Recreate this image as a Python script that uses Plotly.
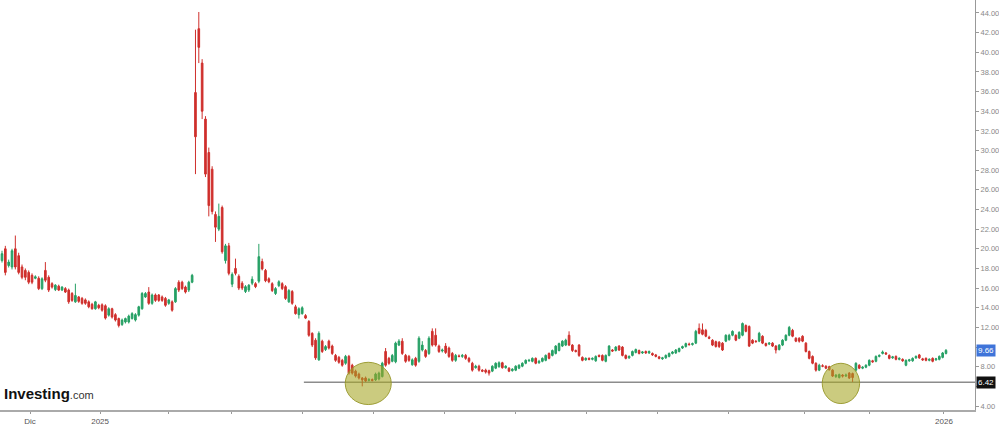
import plotly.graph_objects as go

# ---------------- data (daily candles) ----------------
open_ = [18.8, 20.0, 18.3, 18.15, 20.0, 19.3, 18.15, 17.8, 17.6, 17.3, 17.0, 17.0, 15.95, 17.8, 17.1, 16.45, 15.85, 16.2, 15.8, 15.95,
         15.8, 15.45, 14.6, 15.1, 14.95, 14.8, 14.6, 14.35, 13.9, 14.25, 14.3, 14.2, 13.25, 13.9, 13.3, 12.9, 12.3, 12.55, 12.55, 12.9,
         12.75, 13.25, 13.9, 15.1, 15.6, 14.45, 15.3, 15.3, 15.1, 14.95, 14.45, 14.6, 14.6, 16.6, 16.6, 16.1, 15.8, 16.6,
         35.9, 42.4, 38.9, 33.2, 29.8, 28.1, 23.5, 22.0, 24.2, 18.8, 20.3, 16.4, 18.0, 17.2, 16.5, 15.65, 15.8, 16.5, 16.45, 16.7,
         18.7, 17.8, 16.95, 16.45, 15.45, 16.25, 16.45, 16.15, 14.6, 15.65, 14.1, 13.3, 13.4, 13.2, 12.6, 11.4, 10.7, 8.7, 10.6, 9.75,
         10.6, 10.1, 9.15, 8.95, 8.65, 8.35, 9.05, 8.15, 7.55, 7.25, 6.85, 6.85, 6.6, 6.7, 6.65, 6.75, 7.0, 9.55, 8.85, 8.55,
         8.5, 10.2, 10.6, 9.15, 9.05, 8.2, 8.85, 8.55, 9.7, 9.65, 9.35, 11.6, 11.2, 10.1, 9.6, 10.1, 9.9, 9.35, 8.65, 9.1,
         9.05, 9.15, 8.85, 8.35, 7.9, 8.05, 7.65, 7.65, 7.6, 7.55, 7.85, 8.0, 8.4, 7.9, 7.85, 7.6, 7.65, 7.85, 8.05, 8.35,
         8.6, 8.55, 8.85, 8.4, 8.55, 8.65, 9.35, 9.15, 9.35, 9.65, 10.1, 10.2, 11.2, 10.2, 9.65, 10.2, 8.95, 8.7, 8.85, 8.75,
         8.6, 9.15, 9.15, 8.55, 9.15, 9.7, 9.65, 10.1, 10.0, 9.15, 8.9, 9.15, 9.45, 9.65, 9.4, 9.55, 9.4, 9.35, 9.2, 9.0,
         8.8, 8.9, 9.05, 9.35, 9.4, 9.55, 9.9, 10.05, 10.3, 10.25, 10.4, 11.9, 11.75, 11.7, 11.0, 10.7, 10.55, 10.5, 10.4, 10.6,
         10.75, 11.2, 11.2, 10.9, 11.2, 12.2, 12.1, 10.7, 10.6, 10.6, 11.1, 10.35, 10.3, 10.4, 10.1, 9.75, 10.2, 10.7, 11.2, 11.7,
         10.9, 10.9, 11.1, 10.4, 9.55, 9.05, 8.35, 7.65, 8.1, 8.05, 8.0, 7.65, 7.0, 6.9, 7.15, 7.05, 7.35, 7.3, 7.65, 8.15,
         7.85, 7.95, 8.15, 8.6, 8.55, 9.05, 9.35, 9.4, 9.15, 8.9, 9.05, 8.75, 8.75, 8.15, 8.6, 8.6, 8.9, 9.2, 8.8, 8.85,
         8.65, 8.85, 8.7, 8.75, 8.95, 9.35]
high = [19.8, 20.3, 18.9, 20.0, 21.35, 19.6, 18.4, 18.0, 17.8, 17.5, 17.3, 17.2, 17.1, 18.65, 17.3, 16.6, 16.4, 16.35, 16.2, 16.1,
        15.95, 15.6, 16.45, 15.2, 15.1, 14.95, 14.75, 14.5, 14.7, 14.4, 14.45, 14.35, 14.05, 14.0, 13.45, 13.0, 12.9, 13.0, 13.3, 13.55,
        13.45, 14.2, 15.6, 15.6, 16.1, 15.45, 15.45, 15.4, 15.25, 15.1, 14.9, 14.75, 16.1, 16.8, 16.75, 16.25, 16.75, 17.45,
        42.3, 44.1, 39.3, 33.5, 30.3, 28.4, 23.8, 24.6, 24.4, 20.5, 20.6, 17.6, 19.0, 17.4, 16.7, 16.3, 16.4, 17.2, 16.6, 20.5,
        19.0, 17.95, 17.1, 16.6, 16.1, 16.8, 16.6, 16.3, 15.9, 15.8, 14.3, 14.05, 14.15, 13.35, 12.75, 11.5, 10.9, 11.6, 10.75, 10.2,
        10.75, 10.25, 9.3, 9.1, 8.8, 9.2, 9.2, 8.3, 7.7, 7.4, 6.95, 7.0, 6.85, 6.8, 7.4, 7.5, 8.5, 9.9, 9.0, 9.3,
        10.55, 10.8, 10.9, 9.3, 9.2, 8.85, 9.0, 11.1, 10.6, 9.8, 11.1, 11.9, 11.9, 10.25, 9.85, 10.4, 10.05, 9.5, 9.3, 9.25,
        9.3, 9.3, 9.0, 8.5, 8.2, 8.2, 7.75, 7.8, 7.7, 8.15, 8.45, 8.55, 8.5, 8.15, 7.95, 7.85, 8.15, 8.25, 8.45, 8.75,
        8.8, 8.95, 8.95, 8.7, 8.95, 9.25, 9.45, 9.75, 10.2, 10.45, 10.7, 10.85, 11.6, 10.3, 9.75, 10.3, 9.05, 8.95, 8.95, 8.95,
        9.15, 9.25, 9.25, 9.25, 10.2, 9.8, 10.1, 10.2, 10.1, 9.25, 9.15, 9.65, 9.85, 9.75, 9.6, 9.65, 9.65, 9.45, 9.3, 9.1,
        9.0, 9.25, 9.45, 9.6, 9.8, 9.95, 10.15, 10.45, 10.45, 10.45, 11.75, 12.4, 12.4, 11.85, 11.15, 10.8, 10.65, 10.6, 10.5, 11.3,
        11.35, 11.7, 11.3, 11.6, 12.5, 12.3, 12.2, 10.8, 10.7, 11.55, 11.2, 10.45, 10.5, 10.5, 10.2, 10.3, 10.8, 11.3, 12.15, 11.85,
        11.0, 11.0, 11.2, 10.5, 9.65, 9.15, 8.45, 8.3, 8.25, 8.15, 8.1, 7.75, 7.25, 7.3, 7.25, 7.3, 7.45, 7.4, 8.45, 8.25,
        8.05, 8.25, 8.75, 8.7, 9.15, 9.25, 9.65, 9.5, 9.25, 9.1, 9.15, 8.95, 8.85, 8.75, 8.8, 8.95, 9.15, 9.3, 8.9, 8.95,
        8.85, 8.95, 8.9, 9.15, 9.5, 9.8]
low = [18.6, 17.3, 18.1, 17.9, 17.9, 17.4, 16.9, 16.8, 16.4, 16.4, 16.9, 15.8, 15.8, 16.6, 15.6, 15.95, 15.7, 15.7, 15.7, 15.5,
       14.4, 14.6, 14.5, 14.5, 14.3, 14.3, 13.95, 13.8, 13.8, 13.85, 13.6, 12.8, 13.1, 12.9, 12.6, 12.0, 12.15, 12.4, 12.4, 12.8,
       12.6, 13.1, 13.8, 15.0, 14.3, 14.3, 14.6, 14.6, 14.6, 14.1, 14.3, 13.6, 14.5, 15.6, 15.8, 15.45, 15.6, 16.5,
       27.6, 38.9, 33.2, 27.3, 23.3, 23.5, 20.7, 21.8, 19.5, 18.5, 17.3, 16.1, 17.3, 15.8, 15.8, 15.5, 15.6, 16.3, 16.0, 16.5,
       17.8, 16.6, 16.5, 15.6, 15.3, 16.1, 15.8, 14.8, 14.5, 14.3, 13.3, 12.9, 13.3, 12.85, 11.05, 10.0, 8.7, 8.6, 9.4, 9.6,
       9.75, 9.2, 8.5, 8.3, 8.0, 8.2, 7.2, 7.2, 6.9, 6.7, 6.0, 6.45, 6.5, 6.5, 6.55, 6.6, 6.9, 8.0, 8.2, 8.45,
       8.35, 10.1, 9.2, 8.4, 8.5, 8.1, 8.0, 8.4, 9.55, 8.9, 9.2, 10.05, 10.05, 9.4, 9.45, 9.3, 8.9, 8.5, 8.5, 8.95,
       8.9, 8.7, 8.4, 7.5, 7.8, 7.5, 7.45, 7.3, 7.1, 7.45, 7.75, 7.9, 7.8, 7.8, 7.45, 7.5, 7.55, 7.75, 7.95, 8.25,
       8.5, 8.45, 8.25, 8.3, 8.45, 8.55, 8.75, 9.05, 9.25, 9.55, 10.0, 10.1, 10.1, 9.5, 9.45, 9.0, 8.55, 8.6, 8.65, 8.65,
       8.5, 8.95, 8.55, 8.45, 9.05, 9.5, 9.55, 9.6, 9.05, 8.75, 8.8, 9.05, 9.35, 9.25, 9.3, 9.3, 9.3, 9.1, 8.95, 8.75,
       8.7, 8.8, 8.95, 9.25, 9.3, 9.45, 9.8, 9.95, 10.15, 10.15, 10.3, 11.3, 11.2, 11.0, 10.8, 10.1, 9.95, 9.9, 9.6, 10.5,
       10.65, 11.1, 10.6, 10.8, 11.1, 11.5, 10.0, 10.3, 10.45, 10.5, 10.3, 10.05, 10.2, 10.0, 9.35, 9.65, 10.1, 10.6, 11.1, 11.0,
       10.5, 10.45, 10.5, 9.45, 8.75, 8.25, 7.5, 7.55, 7.95, 7.75, 7.6, 6.95, 6.85, 6.8, 6.9, 6.95, 6.75, 6.45, 7.5, 7.75,
       7.75, 7.85, 8.05, 8.4, 8.45, 8.95, 9.25, 9.2, 8.75, 8.8, 8.65, 8.65, 8.5, 8.05, 8.5, 8.5, 8.8, 8.8, 8.6, 8.55,
       8.55, 8.45, 8.6, 8.65, 8.85, 9.25]
close = [19.5, 17.6, 18.65, 19.8, 18.15, 17.6, 17.1, 17.1, 16.6, 16.6, 17.15, 15.95, 16.95, 16.8, 15.8, 16.1, 16.3, 15.8, 16.1, 15.6,
         14.6, 14.75, 15.25, 14.65, 14.45, 14.45, 14.1, 13.9, 14.6, 14.0, 13.75, 12.95, 13.9, 13.05, 12.75, 12.2, 12.75, 12.9, 13.15, 13.4,
         13.3, 14.1, 15.45, 15.45, 14.45, 15.3, 14.75, 14.75, 14.75, 14.25, 14.8, 13.75, 15.95, 15.8, 15.95, 15.6, 16.6, 17.3,
         31.4, 40.5, 34.0, 27.6, 24.4, 23.8, 22.2, 23.3, 19.7, 20.3, 17.5, 17.4, 17.5, 16.0, 16.0, 16.15, 16.3, 16.9, 16.15, 19.2,
         17.95, 16.75, 16.65, 15.75, 15.95, 16.65, 15.95, 14.95, 15.75, 14.45, 13.4, 13.9, 14.0, 12.95, 11.2, 10.2, 8.9, 11.4, 9.55, 10.05,
         9.9, 9.35, 8.65, 8.45, 8.15, 9.05, 7.35, 7.35, 7.05, 6.85, 6.65, 6.55, 6.7, 6.6, 7.25, 7.35, 8.35, 8.15, 8.35, 9.15,
         10.4, 10.6, 9.35, 8.55, 8.65, 8.7, 8.15, 10.9, 10.2, 9.05, 10.9, 10.2, 10.2, 9.55, 9.7, 9.45, 9.05, 8.65, 9.15, 9.05,
         9.15, 8.85, 8.55, 7.65, 8.05, 7.65, 7.55, 7.45, 7.35, 8.05, 8.35, 8.4, 7.9, 8.05, 7.55, 7.75, 8.05, 8.15, 8.35, 8.65,
         8.65, 8.85, 8.35, 8.55, 8.85, 9.15, 8.85, 9.65, 10.1, 10.35, 10.6, 10.7, 10.2, 9.65, 9.55, 9.15, 8.65, 8.85, 8.75, 8.85,
         9.05, 9.05, 8.65, 9.15, 10.1, 9.6, 10.0, 9.7, 9.15, 8.85, 9.05, 9.55, 9.75, 9.35, 9.5, 9.4, 9.55, 9.2, 9.05, 8.85,
         8.9, 9.15, 9.35, 9.5, 9.7, 9.85, 10.05, 10.35, 10.25, 10.35, 11.6, 11.4, 11.3, 11.1, 10.9, 10.2, 10.05, 10.05, 9.7, 11.2,
         11.2, 11.6, 10.7, 11.5, 12.4, 11.6, 10.1, 10.4, 10.55, 11.4, 10.4, 10.15, 10.4, 10.1, 9.7, 10.2, 10.7, 11.2, 12.0, 11.1,
         10.6, 10.6, 10.6, 9.55, 8.85, 8.35, 7.65, 8.15, 8.05, 7.85, 7.7, 7.05, 7.15, 7.2, 7.05, 7.15, 6.85, 6.9, 8.35, 7.85,
         7.95, 8.15, 8.65, 8.5, 9.05, 9.15, 9.5, 9.3, 8.85, 9.0, 8.75, 8.85, 8.6, 8.65, 8.7, 8.85, 9.05, 8.9, 8.7, 8.65,
         8.75, 8.55, 8.8, 9.05, 9.4, 9.66]

# month ticks (positions are candle indexes), labels as on the chart
tick_idx = [8.4, 29.4, 49.8, 68.9, 90.2, 111.5, 132.7, 154.0, 175.3, 196.6, 217.9, 240.7, 260.2, 282.4]
tick_text = ["Dic", "2025", "", "", "", "", "", "", "", "", "", "", "", "2026"]
y_ticks = [4, 6, 8, 10, 12, 14, 16, 18, 20, 22, 24, 26, 28, 30, 32, 34, 36, 38, 40, 42, 44]
y_tick_text = ["4.00", "", "8.00", "", "12.00", "14.00", "16.00", "18.00", "20.00", "22.00", "24.00",
               "26.00", "28.00", "30.00", "32.00", "34.00", "36.00", "38.00", "40.00", "42.00", "44.00"]

last_price = 9.66
support = 6.42
support_start = 90.5                      # candle index where the support line starts
circles = [(109.8, 6.9, 6.3, 2.15),       # centre index, half width (idx), centre value, half height
           (251.5, 5.6, 6.3, 2.05)]

# ---------------- figure ----------------
x = list(range(len(close)))
GREEN = "#26a065"
RED = "#cf2f2c"

fig = go.Figure()
fig.add_trace(go.Candlestick(
    x=x, open=open_, high=high, low=low, close=close,
    increasing=dict(line=dict(color=GREEN, width=1), fillcolor=GREEN),
    decreasing=dict(line=dict(color=RED, width=1), fillcolor=RED),
    whiskerwidth=0, hoverinfo="skip", showlegend=False,
))

x_range = [-0.6, 291.7]
y_range = [3.595, 45.32]

shapes = [dict(type="line", xref="x", yref="y", x0=support_start, x1=x_range[1],
               y0=support, y1=support, line=dict(color="#8c8c8c", width=1.5), layer="below")]
for cx, hw, cy, hh in circles:
    shapes.append(dict(type="circle", xref="x", yref="y",
                       x0=cx - hw, x1=cx + hw, y0=cy - hh, y1=cy + hh,
                       fillcolor="rgba(165,165,35,0.58)",
                       line=dict(color="rgba(150,150,40,0.9)", width=1), layer="above"))

annotations = [
    dict(xref="paper", yref="y", x=1, y=last_price, xanchor="left", yanchor="middle",
         text="%.2f" % last_price, showarrow=False, bgcolor="#3f74d9",
         font=dict(family="Arial, Liberation Sans", size=8, color="white"), borderpad=1, xshift=1),
    dict(xref="paper", yref="y", x=1, y=support, xanchor="left", yanchor="middle",
         text="%.2f" % support, showarrow=False, bgcolor="#111111",
         font=dict(family="Arial, Liberation Sans", size=8, color="white"), borderpad=1, xshift=1),
    dict(xref="paper", yref="paper", x=0.002, y=0.04, xanchor="left", yanchor="middle",
         text="<b>Investing</b><span style='font-size:11px;color:#333'>.com</span>",
         showarrow=False, font=dict(family="Arial, Liberation Sans", size=15, color="#111")),
]

fig.update_layout(
    width=999, height=426, autosize=False,
    margin=dict(l=0, r=24, t=0, b=14),
    paper_bgcolor="white", plot_bgcolor="white",
    shapes=shapes, annotations=annotations,
    xaxis=dict(range=x_range, rangeslider=dict(visible=False), showgrid=False, zeroline=False,
               tickmode="array", tickvals=tick_idx, ticktext=tick_text,
               ticks="outside", ticklen=2, tickcolor="#999",
               showline=True, linecolor="#aaaaaa", linewidth=2,
               tickfont=dict(family="Arial, Liberation Sans", size=8, color="#555")),
    yaxis=dict(range=y_range, side="right", showgrid=False, zeroline=False,
               tickmode="array", tickvals=y_ticks, ticktext=y_tick_text,
               ticks="outside", ticklen=3, tickcolor="#999",
               showline=True, linecolor="#999999", linewidth=1,
               tickfont=dict(family="Arial, Liberation Sans", size=7.5, color="#888")),
)

fig.write_html("out.html", config={"displayModeBar": False},
               post_script="document.body.style.margin='0';")
